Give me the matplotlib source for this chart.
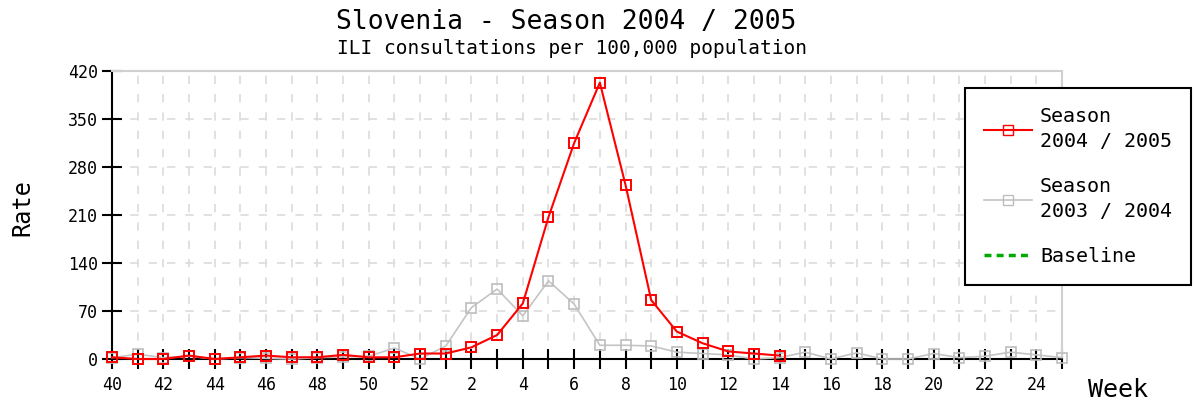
import matplotlib
matplotlib.use("Agg")
import matplotlib.pyplot as plt
from matplotlib.lines import Line2D

# weeks of the season (40..52, then 1..25)
weeks = list(range(40, 53)) + list(range(1, 26))

# ILI rate per 100,000, season 2004/2005 (reported up to week 14)
rate_0405 = [2.5, 0, 0, 5, 0, 2.5, 5, 2.5, 2.5, 6, 2.5, 2.5, 8, 8, 17, 35, 81,
             207, 315, 403, 254, 86, 40, 23, 11, 8, 5]

# season 2003/2004
rate_0304 = [2, 7, 2, 4, 0, 2, 1, 0, 2, 3, 4, 16, 0, 19, 75, 102, 63, 114, 80,
             20, 20, 19, 10, 8, 6, 0, 2, 10, 0, 9, 0, 0, 8, 2, 4, 10, 6, 2]

yticks = [0, 70, 140, 210, 280, 350, 420]

MONO = "DejaVu Sans Mono"

fig = plt.figure(figsize=(11.94, 4.01), dpi=100)
ax = fig.add_axes([112 / 1194, 1 - 359 / 401, (1062 - 112) / 1194, (359 - 71) / 401])

x_all = list(range(len(weeks)))

ax.plot(x_all[:len(rate_0304)], rate_0304, color="#c4c4c4", lw=1.2, marker="s",
        ms=6.5, mfc="none", mec="#bdbdbd", mew=1.2, clip_on=False, zorder=3)
ax.plot(x_all[:len(rate_0405)], rate_0405, color="#ff0000", lw=1.5, marker="s",
        ms=6.5, mfc="none", mec="#ff0000", mew=1.4, clip_on=False, zorder=4)

ax.set_xlim(0, len(weeks) - 1)
ax.set_ylim(0, 420)

ax.set_xticks(x_all)
ax.set_xticklabels([str(w) if i % 2 == 0 else "" for i, w in enumerate(weeks)],
                   family=MONO, fontsize=12)
ax.set_yticks(yticks)
ax.set_yticklabels([str(v) for v in yticks], family=MONO, fontsize=12)
ax.tick_params(axis="both", direction="inout", length=14, width=1.5, color="black")
ax.tick_params(axis="x", pad=5)
ax.tick_params(axis="y", pad=3)

# dashed light grid
ax.grid(True, color="#dcdcdc", lw=1.2, linestyle=(0, (5, 6)))
ax.set_axisbelow(True)

for s in ["left", "bottom"]:
    ax.spines[s].set_color("black")
    ax.spines[s].set_linewidth(1.5)
for s in ["top", "right"]:
    ax.spines[s].set_color("#d0d0d0")
    ax.spines[s].set_linewidth(1.5)

# titles and axis labels
fig.text(566 / 1194, 1 - 22 / 401, "Slovenia - Season 2004 / 2005", family=MONO,
         fontsize=19, ha="center", va="center")
fig.text(572 / 1194, 1 - 49 / 401, "ILI consultations per 100,000 population",
         family=MONO, fontsize=14, ha="center", va="center")
fig.text(22 / 1194, 1 - 208 / 401, "Rate", family=MONO, fontsize=17,
         rotation=90, ha="center", va="center")
fig.text(1118 / 1194, 1 - 390 / 401, "Week", family=MONO, fontsize=18,
         ha="center", va="center")

# legend (baseline has no data this season, shown in legend only)
handles = [
    Line2D([], [], color="#ff0000", lw=1.5, marker="s", ms=6.5, mfc="none", mec="#ff0000"),
    Line2D([], [], color="#c4c4c4", lw=1.2, marker="s", ms=6.5, mfc="none", mec="#bdbdbd"),
    Line2D([], [], color="#00aa00", lw=2.5, linestyle=(0, (2, 1.5))),
]
labels = ["Season\n2004 / 2005", "Season\n2003 / 2004", "Baseline"]
leg = fig.legend(handles, labels, loc="upper left",
                 bbox_to_anchor=(965 / 1194, 1 - 88 / 401),
                 prop={"family": MONO, "size": 14.4}, frameon=True, fancybox=False,
                 edgecolor="black", framealpha=1, handlelength=2.4,
                 handletextpad=0.4, borderpad=0.95, labelspacing=1.3, borderaxespad=0)
leg.get_frame().set_linewidth(1.5)
for t in leg.get_texts():
    t.set_linespacing(1.4)

fig.savefig("out.png", dpi=100)
